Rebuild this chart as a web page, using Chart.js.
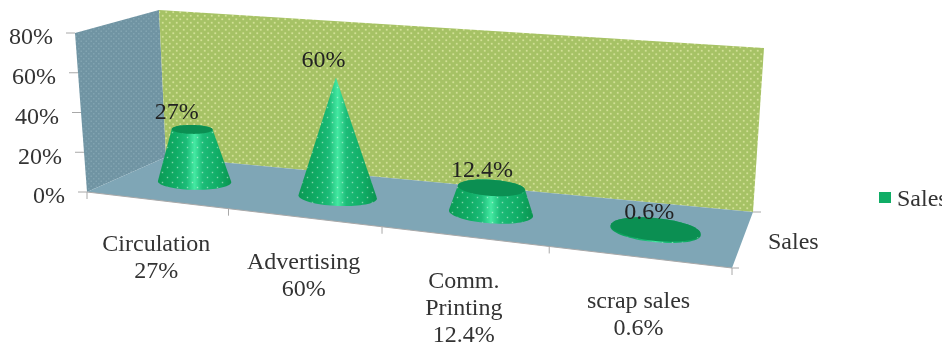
<!DOCTYPE html>
<html>
<head>
<meta charset="utf-8">
<title>Sales</title>
<style>
  html, body { margin: 0; padding: 0; background: #fff; overflow: hidden; }
  canvas { display: block; }
</style>
<script src="https://cdn.jsdelivr.net/npm/chart.js@4/dist/chart.umd.min.js"></script>
</head>
<body>
<canvas id="chart" width="942" height="344"></canvas>
<script>
const categories = [["Circulation", "27%"], ["Advertising", "60%"], ["Comm.", "Printing", "12.4%"], ["scrap sales", "0.6%"]];
const salesValues = [27, 60, 12.4, 0.6];
const valueLabels = ["27%", "60%", "12.4%", "0.6%"];
const seriesName = "Sales";

const FONT = "'Liberation Serif', serif";
const TEXT = "#333333";
const TICK = "#a8a8a8";

// ── PROJECTION ──────────────────────────────────────────────
// Corners of the floor and of the ceiling of the 3D box, order: front-left, front-right, back-right, back-left
const floorQuad = [[87, 192], [732, 268], [753, 212], [166, 157]];
const roofQuad  = [[75, 33], [743, 90], [764, 48], [159, 10]];
// Foreshortening along the front and the back edge of the box
const FRONT_PERSPECTIVE = -0.157;
const BACK_PERSPECTIVE = -0.1;

function alongEdge(a, b, g, u) {
  const w = 1 + g * u;
  return [
    (a[0] + (b[0] * (1 + g) - a[0]) * u) / w,
    (a[1] + (b[1] * (1 + g) - a[1]) * u) / w,
  ];
}

function onQuad(q, u, v) {
  const front = alongEdge(q[0], q[1], FRONT_PERSPECTIVE, u);
  const back = alongEdge(q[3], q[2], BACK_PERSPECTIVE, u);
  return [front[0] + (back[0] - front[0]) * v, front[1] + (back[1] - front[1]) * v];
}

// u: along the categories, v: depth (0 front, 1 back), t: height (0 floor, 1 axis max)
function project(u, v, t) {
  const a = onQuad(floorQuad, u, v), b = onQuad(roofQuad, u, v);
  return [a[0] + (b[0] - a[0]) * t, a[1] + (b[1] - a[1]) * t];
}

function polygon(ctx, pts) {
  ctx.beginPath();
  pts.forEach((p, i) => (i ? ctx.lineTo(p[0], p[1]) : ctx.moveTo(p[0], p[1])));
  ctx.closePath();
}

function hull(points) {
  const pts = points.slice().sort((a, b) => a[0] - b[0] || a[1] - b[1]);
  const cross = (o, a, b) => (a[0] - o[0]) * (b[1] - o[1]) - (a[1] - o[1]) * (b[0] - o[0]);
  const side = list => {
    const out = [];
    list.forEach(p => {
      while (out.length > 1 && cross(out[out.length - 2], out[out.length - 1], p) <= 0) out.pop();
      out.push(p);
    });
    out.pop();
    return out;
  };
  return side(pts).concat(side(pts.slice().reverse()));
}

// Staggered dot fill, same idea as the office "dotted" pattern
function dotPattern(ctx, bg, dot, cell, size) {
  const c = document.createElement("canvas");
  c.width = c.height = cell;
  const g = c.getContext("2d");
  if (bg) { g.fillStyle = bg; g.fillRect(0, 0, cell, cell); }
  g.fillStyle = dot;
  g.fillRect(cell / 4 - size / 2, cell / 4 - size / 2, size, size);
  g.fillRect(cell * 3 / 4 - size / 2, cell * 3 / 4 - size / 2, size, size);
  return ctx.createPattern(c, "repeat");
}

// Ring of points for a cone section: wide along the floor, flattened by the depth of the floor.
// The tilt only builds up towards the far end of the box.
function ring(u, t, radius, scale) {
  const center = project(u, 0.5, t);
  const a = project(u - radius, 0.5, t), b = project(u + radius, 0.5, t);
  const span = project(u, 0, 0)[1] - project(u, 1, 0)[1];
  const ry = span * 0.22 * scale;
  const rx = (b[0] - a[0]) / 2 * scale, tilt = (b[1] - a[1]) / 2 * scale * u;
  const pts = [];
  for (let k = 0; k < 72; k++) {
    const c = Math.cos(k / 72 * Math.PI * 2), s = Math.sin(k / 72 * Math.PI * 2);
    pts.push([center[0] + rx * c, center[1] + tilt * c + ry * s]);
  }
  return pts;
}

// ── CONE CONTROLLER ─────────────────────────────────────────
// A bar controller whose bars are painted as cones standing on the projected floor
class ConeController extends Chart.BarController {
  draw() {
    const chart = this.chart;
    const ctx = chart.ctx;
    const area = chart.chartArea;
    const bars = this.getMeta().data;
    const peak = Math.max(...salesValues);
    const dots = dotPattern(ctx, null, "rgba(235,255,240,0.5)", 10, 1.4);

    bars.forEach((bar, i) => {
      const u = (bar.x - area.left) / area.width;
      const t = (area.bottom - bar.y) / area.height;
      const radius = bar.width / 2 / area.width;
      const topScale = 1 - salesValues[i] / peak;

      const base = ring(u, 0, radius, 1);
      const top = ring(u, t, radius, topScale);

      const xs = base.map(p => p[0]);
      const left = Math.min(...xs), right = Math.max(...xs);
      const shade = ctx.createLinearGradient(left, 0, right, 0);
      shade.addColorStop(0, "#0b9a55");
      shade.addColorStop(0.25, "#10ad66");
      shade.addColorStop(0.39, "#1cbc78");
      shade.addColorStop(0.5, "#44e9a2");
      shade.addColorStop(0.61, "#1cbc78");
      shade.addColorStop(0.82, "#10ad66");
      shade.addColorStop(1, "#0a9450");

      polygon(ctx, hull(base.concat(top)));
      ctx.fillStyle = shade;
      ctx.fill();
      ctx.fillStyle = dots;
      ctx.fill();

      if (topScale > 0) {
        polygon(ctx, top);
        ctx.fillStyle = "#0b8f52";
        ctx.fill();
      }
    });
  }
}
ConeController.id = "cone";
ConeController.defaults = Chart.BarController.defaults;
ConeController.overrides = Chart.BarController.overrides;
Chart.register(ConeController);

// ── BOX, AXES AND TEXT ──────────────────────────────────────
const boxPlugin = {
  id: "box",
  beforeDatasetsDraw(chart) {
    const ctx = chart.ctx;
    const [fl, fr, br, bl] = floorQuad;
    const [tfl, , tbr, tbl] = roofQuad;

    // side wall, back wall, floor
    polygon(ctx, [fl, bl, tbl, tfl]);
    ctx.fillStyle = dotPattern(ctx, "#7094a3", "#82a4b1", 5, 1.5);
    ctx.fill();
    polygon(ctx, [bl, br, tbr, tbl]);
    ctx.fillStyle = dotPattern(ctx, "#a6c265", "#d2e096", 7, 1.8);
    ctx.fill();
    polygon(ctx, [fl, fr, br, bl]);
    ctx.fillStyle = "#7fa6b6";
    ctx.fill();

    ctx.strokeStyle = TICK;
    ctx.lineWidth = 1;
    ctx.beginPath();
    ctx.moveTo(fl[0], fl[1]);
    ctx.lineTo(fr[0], fr[1]);

    // value axis ticks on the front edge of the side wall
    const yScale = chart.scales.y;
    yScale.ticks.forEach(tick => {
      const t = (chart.chartArea.bottom - yScale.getPixelForValue(tick.value)) / chart.chartArea.height;
      const p = project(0, 0, t);
      ctx.moveTo(p[0] - 9, p[1]);
      ctx.lineTo(p[0], p[1]);
    });

    // category ticks along the front edge
    for (let k = 0; k <= categories.length; k++) {
      const p = project(k / categories.length, 0, 0);
      ctx.moveTo(p[0], p[1]);
      ctx.lineTo(p[0], p[1] + 7);
    }

    // depth ticks on the right side of the floor
    ctx.moveTo(br[0], br[1]);
    ctx.lineTo(br[0] + 8, br[1]);
    ctx.moveTo(fr[0], fr[1]);
    ctx.lineTo(fr[0] + 7, fr[1]);
    ctx.stroke();
  },
  afterDatasetsDraw(chart) {
    const ctx = chart.ctx;
    const area = chart.chartArea;
    const xScale = chart.scales.x;
    const yScale = chart.scales.y;
    const bars = chart.getDatasetMeta(0).data;

    ctx.save();
    ctx.font = `24px ${FONT}`;
    ctx.fillStyle = TEXT;
    ctx.textBaseline = "middle";

    // value axis labels
    ctx.textAlign = "right";
    yScale.ticks.forEach(tick => {
      const t = (area.bottom - yScale.getPixelForValue(tick.value)) / area.height;
      const p = project(0, 0, t);
      ctx.fillText(tick.label, p[0] - 22, p[1] + 5);
    });

    // category labels follow the slope of the front edge
    ctx.textAlign = "center";
    categories.forEach((lines, i) => {
      const u = (xScale.getPixelForValue(i) - area.left) / area.width;
      const p = project(u, 0, 0);
      lines.forEach((line, k) => ctx.fillText(line, p[0], p[1] + 45 + k * 27));
    });

    // value labels above each cone
    ctx.fillStyle = "#222222";
    bars.forEach((bar, i) => {
      const u = (bar.x - area.left) / area.width;
      const t = (area.bottom - bar.y) / area.height;
      const p = project(u, 0.5, t);
      ctx.fillText(valueLabels[i], p[0] - 17 + 12 * u, p[1] - 17);
    });

    // depth axis label and legend
    ctx.fillStyle = TEXT;
    ctx.textAlign = "left";
    ctx.fillText(seriesName, 768, 243);
    ctx.fillText(seriesName, 897, 200);
    ctx.fillStyle = "#10ad66";
    ctx.fillRect(879, 192, 12, 11);
    ctx.restore();
  },
};

new Chart(document.getElementById("chart"), {
  type: "cone",
  data: {
    labels: categories,
    datasets: [{
      label: seriesName,
      data: salesValues,
      backgroundColor: "#10ad66",
      categoryPercentage: 1,
      barPercentage: 0.53,
    }],
  },
  options: {
    responsive: false,
    animation: false,
    layout: { padding: 0 },
    plugins: { legend: { display: false }, tooltip: { enabled: false } },
    scales: {
      x: { type: "category", display: false, offset: true },
      y: {
        type: "linear",
        display: false,
        min: 0,
        max: 80,
        ticks: { stepSize: 20, callback: v => v + "%" },
      },
    },
  },
  plugins: [boxPlugin],
});
</script>
</body>
</html>
